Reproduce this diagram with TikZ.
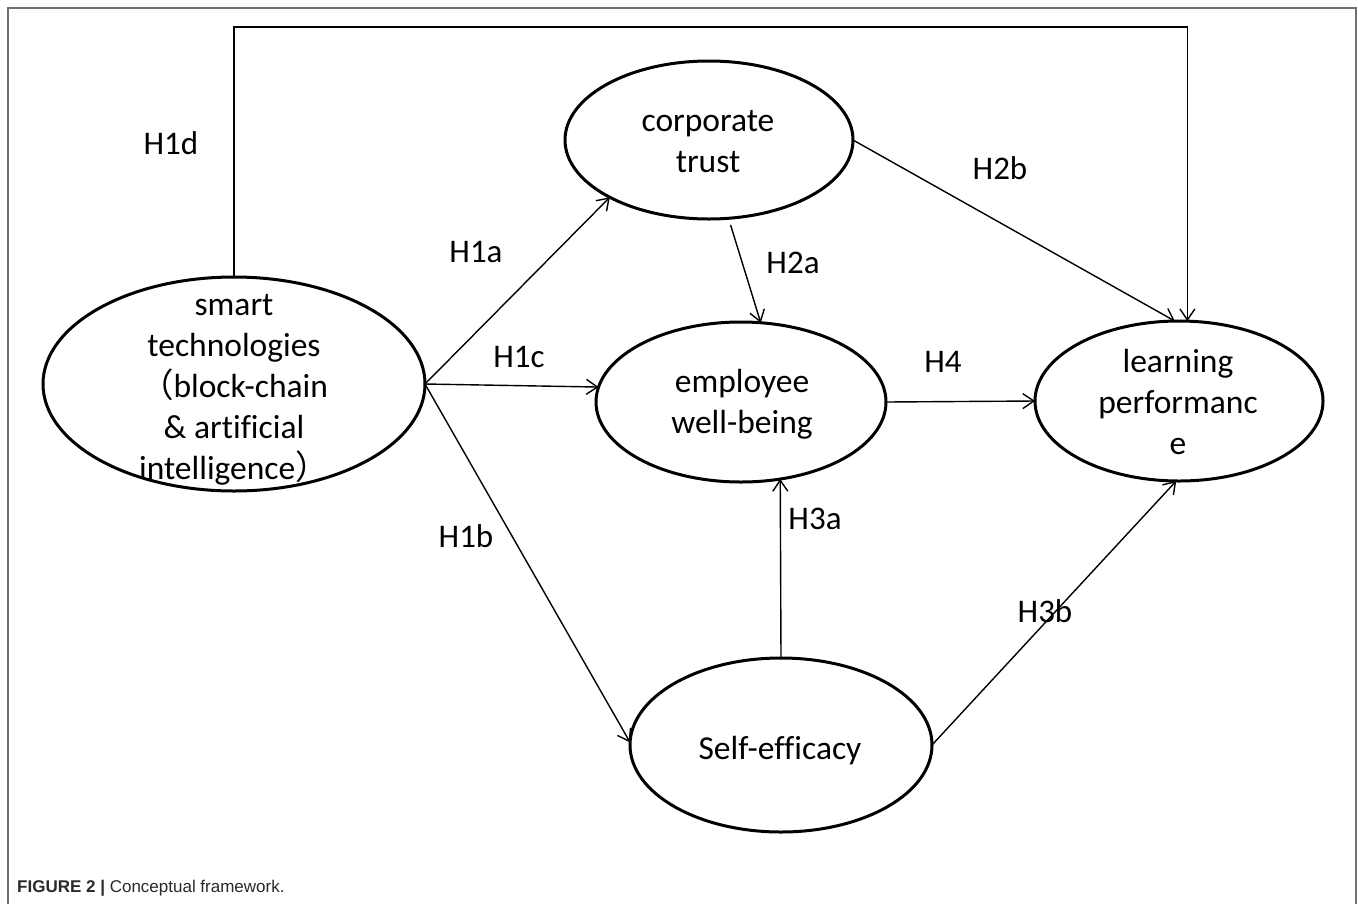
\documentclass[tikz,border=0pt]{standalone}
\usepackage{fontspec}
\setmainfont{Carlito}[Ligatures=NoCommon]
\newfontfamily\capfont{Liberation Sans}
\newfontfamily\cjk{Noto Sans CJK SC}
\usetikzlibrary{shapes.geometric,arrows.meta}
\definecolor{framegray}{HTML}{707070}
\definecolor{captext}{HTML}{2A2A2A}
\begin{document}
\begin{tikzpicture}[x=1pt,y=-1pt,
  ell/.style={draw, line width=3pt, ellipse, inner sep=0pt, outer sep=0pt},
  txt/.style={font=\fontsize{33.5}{41}\selectfont, align=center, inner sep=0pt},
  lab/.style={font=\fontsize{33}{41}\selectfont, inner sep=0pt},
  arr/.style={line width=1.4pt, -{Straight Barb[length=11pt,width=15pt,line width=1.4pt]}}]
\fill[white] (0,0) rectangle (1358,903);
\useasboundingbox (0,0) rectangle (1358,903);
% frame
\draw[framegray, line width=1.5pt] (8,915) -- (8,8) -- (1356,8) -- (1356,915);
% ellipses
\node[ell, minimum width=382pt, minimum height=214pt] (st) at (234,384) {};
\node[ell, minimum width=288pt, minimum height=158pt] (ct) at (709,140) {};
\node[ell, minimum width=290pt, minimum height=160pt] (ew) at (741,402) {};
\node[ell, minimum width=288pt, minimum height=160pt] (lp) at (1179,401) {};
\node[ell, minimum width=302pt, minimum height=174pt] (se) at (781,745) {};
% texts
\node[txt] (stt) at (234,390) {smart\\technologies\\{\cjk （}block-chain\\\& artificial\\intelligence{\cjk ）}};
\node[txt] (ctt) at (708,141.5) {corporate\\trust};
\node[txt] (ewt) at (742,404) {employee\\well-being};
\node[txt] (lpt) at (1178,402) {learning\\performanc\\e};
\node[txt] (set) at (780,751) {Self-efficacy};
% connectors
\coordinate (topc) at (700,27);
\draw[arr] (st.north) |- (topc) -| (lp.84);
\draw[arr] (st.east) -- (ct.210);
\draw[arr] (st.east) -- (ew.174);
\draw[arr] (st.east) -- (se.179);
\draw[arr, shorten <=7pt] (ct.284) -- (ew.76);
\draw[arr] (ct.east) -- (lp.93);
\draw[arr] (ew.east) -- (lp.west);
\draw[arr] (se.north) -- (ew.297);
\draw[arr] (se.east) -- (lp.268);
% labels
\node[lab] (l1d) at (171,143) {H1d};
\node[lab] (l1a) at (476,252) {H1a};
\node[lab] (l1c) at (519,357) {H1c};
\node[lab] (l1b) at (466,536) {H1b};
\node[lab] (l2a) at (793,263) {H2a};
\node[lab] (l2b) at (1000,168) {H2b};
\node[lab] (l4) at (943,362) {H4};
\node[lab] (l3a) at (815,519) {H3a};
\node[lab] (l3b) at (1045,611) {H3b};
% caption
\node[anchor=base west, inner sep=0pt, text=captext, font=\capfont\fontsize{17}{20}\selectfont] (cap) at (17,892) {\textbf{FIGURE 2 |} Conceptual framework.};
\end{tikzpicture}
\end{document}
